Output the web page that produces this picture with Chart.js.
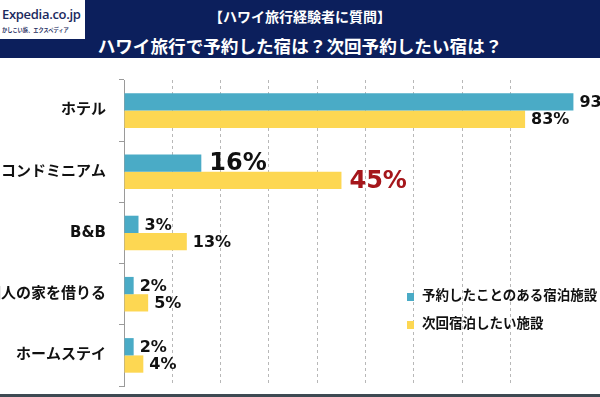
<!DOCTYPE html>
<html lang="ja">
<head>
<meta charset="UTF-8">
<title>ハワイ旅行で予約した宿は？次回予約したい宿は？</title>
<script src="https://cdn.jsdelivr.net/npm/chart.js"></script>
<style>
    body {
        margin: 0;
        background: #ffffff;
        font-family: "Noto Sans CJK JP", "DejaVu Sans", sans-serif;
    }
    #page {
        position: relative;
        width: 600px;
        height: 397px;
        overflow: hidden;
        background: #ffffff;
    }
    #header {
        position: absolute;
        left: 0; top: 0;
        width: 600px; height: 58px;
        background: #0c1f5c;
        color: #ffffff;
        text-align: center;
    }
    #sub {
        position: absolute;
        left: 0; right: 0; top: 6px;
        font-size: 14px;
        font-weight: bold;
        line-height: 20px;
    }
    #title {
        position: absolute;
        left: 0; right: 0; top: 34px;
        font-size: 17.6px;
        font-weight: bold;
        line-height: 24px;
    }
    #logo {
        position: absolute;
        left: 0; top: 0;
        width: 85px; height: 39px;
        background: #ffffff;
        color: #1b2a5e;
        text-align: left;
    }
    #logo .name {
        position: absolute; left: 2px; top: 5px;
        font-family: "Open Sans", sans-serif;
        font-size: 13px; font-weight: 600;
        letter-spacing: -0.3px;
        line-height: 18px;
    }
    #logo .tag {
        position: absolute; left: 2px; top: 27px;
        font-size: 10px; font-weight: bold;
        line-height: 12px;
        white-space: nowrap;
        transform: scale(0.52);
        transform-origin: left top;
    }
    #chartBox {
        position: absolute;
        left: 0; top: 0;
        width: 600px; height: 397px;
    }
    #legend {
        position: absolute;
        left: 407px; top: 286px;
        font-size: 13.5px;
        font-weight: bold;
        color: #111111;
        white-space: nowrap;
    }
    #legend div {
        height: 28px;
        line-height: 16px;
    }
    #legend span.box {
        display: inline-block;
        width: 7px; height: 8px;
        margin-right: 8px;
        vertical-align: -1px;
    }
    #bottomBar {
        position: absolute;
        left: 0; top: 394px;
        width: 600px; height: 3px;
        background: #3e4a53;
    }
</style>
</head>
<body>
<div id="page">
    <div id="chartBox"><canvas id="c" width="600" height="397"></canvas></div>
    <div id="header">
        <div id="sub">【ハワイ旅行経験者に質問】</div>
        <div id="title">ハワイ旅行で予約した宿は？次回予約したい宿は？</div>
        <div id="logo">
            <div class="name">Expedia.co.jp</div>
            <div class="tag">かしこい旅、エクスペディア</div>
        </div>
    </div>
    <div id="legend"></div>
    <div id="bottomBar"></div>
</div>

<script>
    // データ
    const categories = ["ホテル", "コンドミニアム", "B&B", "個人の家を借りる", "ホームステイ"];
    const seriesNames = ["予約したことのある宿泊施設", "次回宿泊したい施設"];
    const bookedValues = [93, 16, 3, 2, 2];
    const nextValues = [83, 45, 13, 5, 4];

    const colors = ["#4aabc6", "#fdd752"];

    // 凡例 (HTML)
    const legend = document.getElementById("legend");
    seriesNames.forEach(function (name, i) {
        const row = document.createElement("div");
        const box = document.createElement("span");
        box.className = "box";
        box.style.background = colors[i];
        row.appendChild(box);
        row.appendChild(document.createTextNode(name));
        legend.appendChild(row);
    });

    // バーの右に値ラベル
    const valueLabels = {
        id: "valueLabels",
        afterDatasetsDraw(chart) {
            const ctx = chart.ctx;
            ctx.save();
            ctx.textBaseline = "middle";
            ctx.textAlign = "left";
            chart.data.datasets.forEach(function (ds, di) {
                const meta = chart.getDatasetMeta(di);
                meta.data.forEach(function (bar, i) {
                    const big = i === 1; // コンドミニアムを強調
                    ctx.font = "bold " + (big ? 24 : 16) + "px 'DejaVu Sans', sans-serif";
                    ctx.fillStyle = (big && di === 1) ? "#a5161b" : "#111111";
                    ctx.fillText(ds.data[i] + "%", bar.x + (big ? 8 : 6), bar.y + 1);
                });
            });
            ctx.restore();
        }
    };

    new Chart(document.getElementById("c"), {
        type: "bar",
        data: {
            labels: categories,
            datasets: [
                { label: seriesNames[0], data: bookedValues, backgroundColor: colors[0] },
                { label: seriesNames[1], data: nextValues, backgroundColor: colors[1] }
            ]
        },
        options: {
            indexAxis: "y",
            responsive: false,
            animation: false,
            layout: { padding: { top: 80, bottom: 11, left: 0, right: 0 } },
            datasets: { bar: { categoryPercentage: 0.565, barPercentage: 1 } },
            plugins: {
                legend: { display: false },
                tooltip: { enabled: false }
            },
            scales: {
                x: {
                    min: 0,
                    max: 98.5,
                    ticks: { display: false, stepSize: 10 },
                    grid: { color: "#b8b8b8", lineWidth: 1, drawTicks: false },
                    border: { display: false, dash: [3, 3] },
                    afterFit: function (s) {
                        s.height = 0;
                        s.paddingLeft = 0; s.paddingRight = 0;
                    }
                },
                y: {
                    ticks: {
                        color: "#111111",
                        padding: 13,
                        font: { size: 15, weight: "bold", family: "'DejaVu Sans', 'Noto Sans CJK JP', sans-serif" }
                    },
                    grid: { drawOnChartArea: false, tickLength: 5, color: "#9a9a9a" },
                    border: { display: true, color: "#9a9a9a", width: 1 },
                    afterFit: function (s) {
                        s.width = 124;
                        s.paddingTop = 0; s.paddingBottom = 0;
                    }
                }
            }
        },
        plugins: [valueLabels]
    });
</script>
</body>
</html>
